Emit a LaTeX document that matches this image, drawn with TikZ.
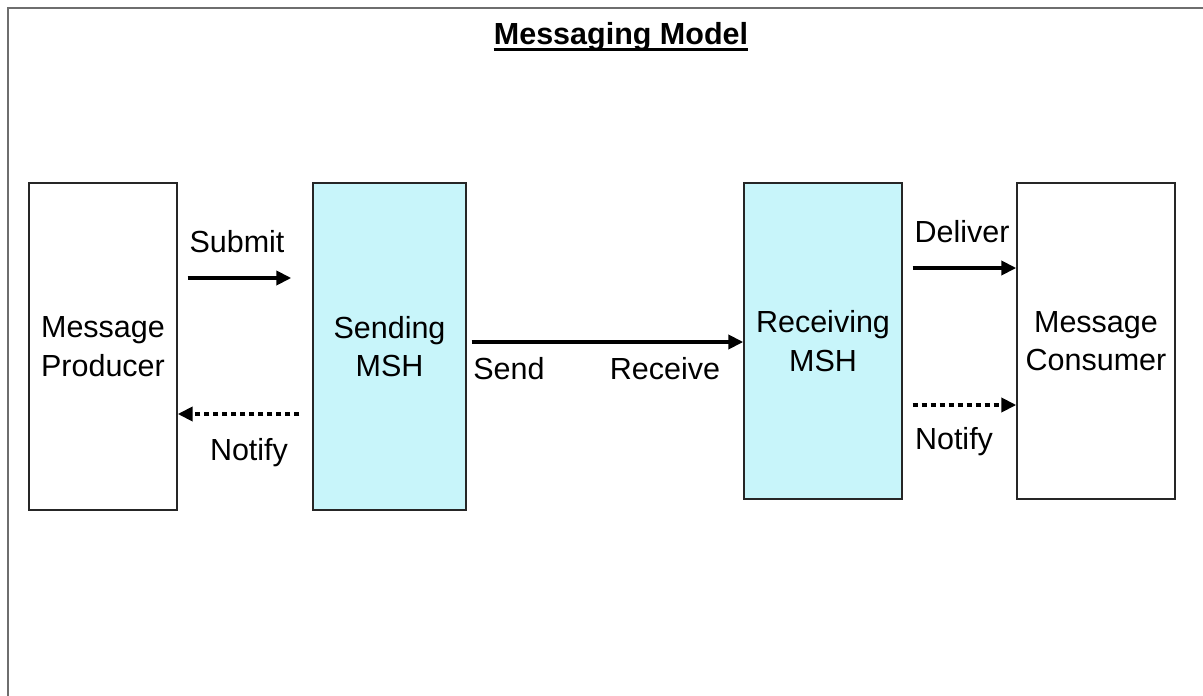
\documentclass[tikz,border=0pt]{standalone}
\usepackage{fontspec}
\setmainfont{Liberation Sans}
\usetikzlibrary{arrows.meta,positioning}
\definecolor{mshcyan}{RGB}{200,245,250}
\definecolor{framegray}{RGB}{110,110,110}
\tikzset{
	party/.style={draw=black!85, line width=1.4pt, fill=white, align=center,
		font=\fontsize{30.5}{38.5}\selectfont, inner sep=0pt},
	msh/.style={party, fill=mshcyan},
	flow/.style={line width=4.6pt, -{Triangle[length=15pt,width=14pt]}},
	notify/.style={flow, dash pattern=on 5pt off 4pt},
	lbl/.style={font=\fontsize{30.5}{36}\selectfont, inner sep=0pt}
}

\begin{document}
\begin{tikzpicture}[x=1pt, y=-1pt]
			%%%%% START %%%%%
			\useasboundingbox (0, 0) rectangle (1203, 696);
			
			% frame
			\draw[line width=2pt, color=framegray] (8, 696) -- (8, 7.5) -- (1203, 7.5);
			\node[lbl, font=\fontsize{30.5}{36}\selectfont\bfseries] (title) at (621, 37) {Messaging Model};
			\draw[line width=2.2pt] ([yshift=2]title.south west) -- ([yshift=2]title.south east);
			
			% parties
			\node[party, minimum width=148, minimum height=327] (prod) at (103, 346.5) {Message\\Producer};
			\node[msh, minimum width=153, minimum height=327] (send) at (389.5, 346.5) {Sending\\MSH};
			\node[msh, minimum width=158, minimum height=316] (recv) at (823, 341) {Receiving\\MSH};
			\node[party, minimum width=158, minimum height=316] (cons) at (1096, 341) {Message\\Consumer};
			
			% levels of the arrows
			\coordinate (submitY) at (0, 278);
			\coordinate (notifyY) at (0, 414);
			\coordinate (sendY) at (0, 342);
			\coordinate (deliverY) at (0, 268);
			\coordinate (ackY) at (0, 405);
			
			\draw[flow] ([xshift=10]prod.east |- submitY) -- ([xshift=-21]send.west |- submitY);
			\draw[notify] ([xshift=-13]send.west |- notifyY) -- (prod.east |- notifyY);
			\draw[flow] ([xshift=5]send.east |- sendY) -- (recv.west |- sendY);
			\draw[flow] ([xshift=10]recv.east |- deliverY) -- (cons.west |- deliverY);
			\draw[notify] ([xshift=10]recv.east |- ackY) -- (cons.west |- ackY);
			
			% labels
			\node[lbl] (submit) at (237, 242) {Submit};
			\node[lbl] (notifyL) at (249, 453) {Notify};
			\node[lbl] (sendL) at (509, 369) {Send};
			\node[lbl] (recvL) at (665, 369) {Receive};
			\node[lbl] (deliver) at (962, 232) {Deliver};
			\node[lbl] (notifyR) at (954, 442) {Notify};
			%%%%% END %%%%%
\end{tikzpicture}
\end{document}
